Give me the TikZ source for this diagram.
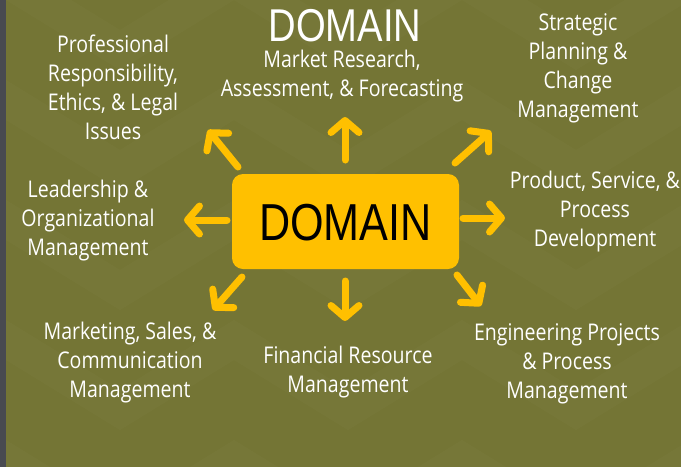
\documentclass[tikz,border=0pt]{standalone}
\usepackage{fontspec}
\usetikzlibrary{arrows.meta}
\setmainfont{Open Sans}[FakeStretch=0.85]
\newfontfamily\titlefont{Liberation Sans}[FakeStretch=0.83]
\definecolor{olivebg}{RGB}{116,117,53}
\definecolor{stripgrey}{RGB}{72,74,80}
\definecolor{dyellow}{RGB}{255,192,0}
\tikzset{
  lbl/.style={text=white, align=center, font=\fontsize{23}{29}\selectfont, inner sep=0pt},
  spoke/.style={draw=dyellow, line width=7pt, line cap=round,
    -{Straight Barb[length=12pt, width=28pt, line cap=round, line join=round]}},
  centerbox/.style={fill=dyellow, rounded corners=11pt, minimum width=227pt, minimum height=95pt, inner sep=0pt}
}
\begin{document}
\begin{tikzpicture}[x=1pt,y=-1pt]
\useasboundingbox (0,0) rectangle (681,467);
\fill[olivebg] (0,0) rectangle (681,467);
\fill[stripgrey] (0,0) rectangle (6,467);
% faint chevron bands
\begin{scope}[white, opacity=0.018]
\foreach \yy in {-40,80,200,320,440} {
  \fill (6,\yy) -- (120,\yy+70) -- (234,\yy) -- (348,\yy+70) -- (462,\yy) -- (576,\yy+70) -- (690,\yy)
     -- (690,\yy+40) -- (576,\yy+110) -- (462,\yy+40) -- (348,\yy+110) -- (234,\yy+40) -- (120,\yy+110) -- (6,\yy+40) -- cycle;
}
\end{scope}

\node[text=white, font=\titlefont\fontsize{46}{46}\selectfont, inner sep=0pt] (title) at (345,26) {DOMAIN};

\node[centerbox] (dom) at (345.5,221.5) {};
\node[font=\titlefont\fontsize{52}{52}\selectfont, inner sep=0pt] (domtext) at (345.5,223) {DOMAIN};

\node[lbl] (market) at (342,76) {Market Research,\\Assessment, \& Forecasting};
\node[lbl] (prof) at (113,87) {Professional\\Responsibility,\\Ethics, \& Legal\\Issues};
\node[lbl] (strat) at (578,68) {Strategic\\Planning \&\\Change\\Management};
\node[lbl] (lead) at (88,221) {Leadership \&\\Organizational\\Management};
\node[lbl] (prod) at (595,212) {Product, Service, \&\\Process\\Development};
\node[lbl] (mkt) at (130,363) {Marketing, Sales, \&\\Communication\\Management};
\node[lbl] (fin) at (348,372) {Financial Resource\\Management};
\node[lbl] (eng) at (567,364) {Engineering Projects\\\& Process\\Management};

\coordinate (upA) at (345,160);  \coordinate (upB) at (345,117);
\coordinate (dnA) at (345,281);  \coordinate (dnB) at (345,321);
\coordinate (lfA) at (227,220);  \coordinate (lfB) at (184,220);
\coordinate (rtA) at (463,218);  \coordinate (rtB) at (505,218);
\coordinate (ulA) at (238,167);  \coordinate (ulB) at (208,130);
\coordinate (urA) at (455,163);  \coordinate (urB) at (491,131);
\coordinate (llA) at (242,277);  \coordinate (llB) at (213,310);
\coordinate (lrA) at (457,275);  \coordinate (lrB) at (481,306);
\foreach \s in {up,dn,lf,rt,ul,ur,ll,lr} {\draw[spoke] (\s A) -- (\s B);}
\end{tikzpicture}
\end{document}
